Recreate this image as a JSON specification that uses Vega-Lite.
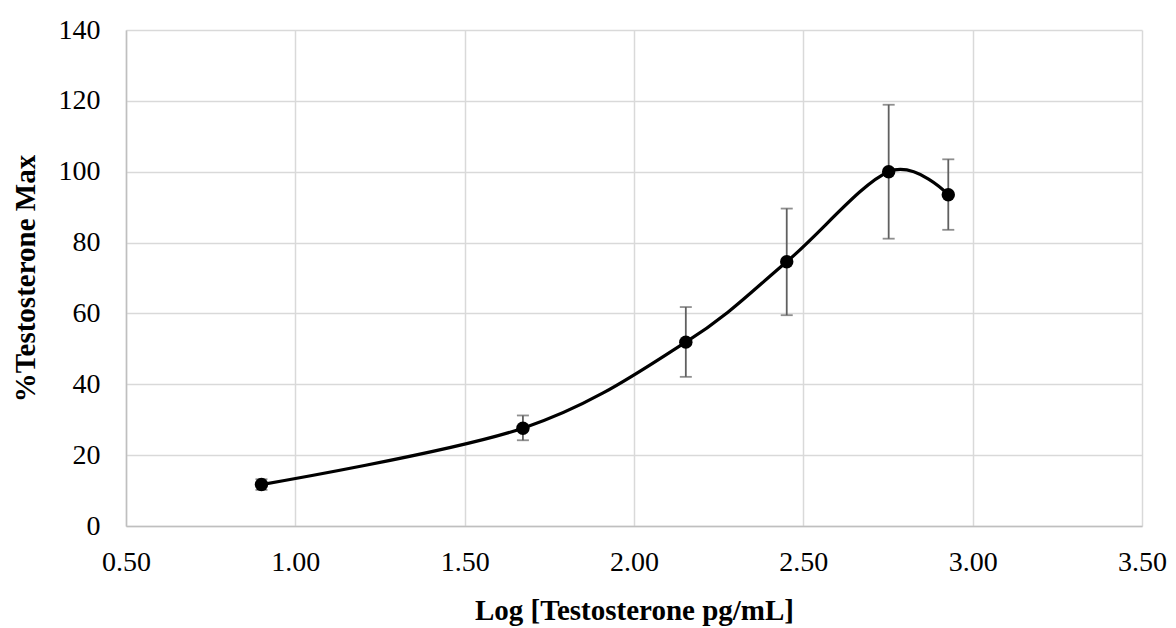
{
  "$schema": "https://vega.github.io/schema/vega-lite/v6.json",
  "autosize": "none",
  "width": 1016,
  "height": 496,
  "padding": {"left": 126, "top": 30, "right": 34, "bottom": 102},
  "background": "white",
  "config": {
    "view": {"stroke": null},
    "font": "Liberation Serif",
    "axis": {
      "labelFont": "Liberation Serif",
      "titleFont": "Liberation Serif",
      "labelFontSize": 28,
      "titleFontSize": 29,
      "labelColor": "#000000",
      "titleColor": "#000000",
      "gridColor": "#d9d9d9",
      "gridWidth": 1.5,
      "domainColor": "#bfbfbf",
      "domainWidth": 1.5,
      "ticks": false,
      "labelFlush": false,
      "labelOverlap": false
    }
  },
  "data": {
    "values": [
      {"logT": 0.90, "pct": 11.7, "lo": 10.2, "hi": 13.2},
      {"logT": 1.672, "pct": 27.6, "lo": 24.2, "hi": 31.2},
      {"logT": 2.153, "pct": 51.9, "lo": 42.1, "hi": 61.8},
      {"logT": 2.451, "pct": 74.6, "lo": 59.5, "hi": 89.6},
      {"logT": 2.752, "pct": 100.0, "lo": 81.1, "hi": 118.9},
      {"logT": 2.928, "pct": 93.5, "lo": 83.6, "hi": 103.5}
    ]
  },
  "encoding": {
    "x": {
      "field": "logT",
      "type": "quantitative",
      "scale": {"domain": [0.5, 3.5], "nice": false, "zero": false},
      "axis": {
        "title": "Log [Testosterone pg/mL]",
        "values": [0.5, 1.0, 1.5, 2.0, 2.5, 3.0, 3.5],
        "format": ".2f",
        "labelPadding": 22,
        "titlePadding": 20,
        "titleFontWeight": "bold"
      }
    }
  },
  "layer": [
    {
      "mark": {"type": "rule", "color": "#606060", "strokeWidth": 1.8},
      "encoding": {
        "y": {"field": "lo", "type": "quantitative"},
        "y2": {"field": "hi"}
      }
    },
    {
      "mark": {"type": "tick", "orient": "horizontal", "color": "#606060", "size": 12, "thickness": 1.8},
      "encoding": {"y": {"field": "lo", "type": "quantitative"}}
    },
    {
      "mark": {"type": "tick", "orient": "horizontal", "color": "#606060", "size": 12, "thickness": 1.8},
      "encoding": {"y": {"field": "hi", "type": "quantitative"}}
    },
    {
      "mark": {"type": "line", "color": "#000000", "strokeWidth": 3.2, "interpolate": "cardinal", "tension": 0},
      "encoding": {
        "y": {
          "field": "pct",
          "type": "quantitative",
          "scale": {"domain": [0, 140], "nice": false},
          "axis": {
            "title": "%Testosterone Max",
            "values": [0, 20, 40, 60, 80, 100, 120, 140],
            "labelPadding": 26,
            "titlePadding": 18,
            "titleFontWeight": "bold"
          }
        }
      }
    },
    {
      "mark": {"type": "point", "filled": true, "color": "#000000", "opacity": 1, "size": 180},
      "encoding": {"y": {"field": "pct", "type": "quantitative"}}
    }
  ]
}
